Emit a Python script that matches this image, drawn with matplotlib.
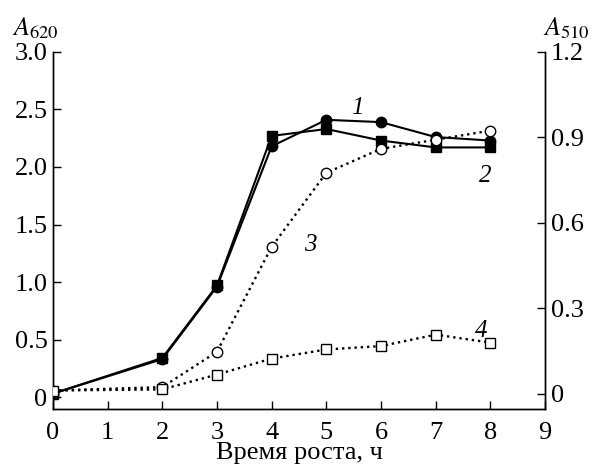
import numpy as np
import matplotlib
matplotlib.use('Agg')
import matplotlib.pyplot as plt

plt.rcParams['font.family'] = ['Liberation Serif', 'DejaVu Serif']
plt.rcParams['mathtext.fontset'] = 'stix'

# время роста, ч
hours = [0, 2, 3, 4, 5, 6, 7, 8]
# A620 (левая ось)
curve1 = [0.03, 0.33, 0.96, 2.18, 2.41, 2.39, 2.26, 2.23]
curve2 = [0.03, 0.34, 0.97, 2.27, 2.33, 2.23, 2.17, 2.17]
# A510 (правая ось)
curve3 = [0.012, 0.024, 0.148, 0.516, 0.776, 0.86, 0.892, 0.924]
curve4 = [0.012, 0.016, 0.068, 0.124, 0.156, 0.168, 0.208, 0.18]

left_ticks = [0, 0.5, 1.0, 1.5, 2.0, 2.5, 3.0]
left_labels = ['0', '0.5', '1.0', '1.5', '2.0', '2.5', '3.0']
right_ticks = [0, 0.3, 0.6, 0.9, 1.2]
right_labels = ['0', '0.3', '0.6', '0.9', '1.2']

fig = plt.figure(figsize=(5.95, 4.68), dpi=100)
ax = fig.add_axes([0.089, 0.126, 0.827, 0.763])
ax2 = ax.twinx()

ax.plot(hours, curve1, '-', color='black', lw=1.5, marker='o', ms=7.5,
        mfc='black', mec='black', zorder=3)
ax.plot(hours, curve2, '-', color='black', lw=1.5, marker='s', ms=7.5,
        mfc='black', mec='black', zorder=3)
ax2.plot(hours, curve3, ':', color='black', lw=1.7, marker='o', ms=7.5,
         mfc='white', mec='black', mew=1.0, zorder=3)
ax2.plot(hours, curve4, ':', color='black', lw=1.7, marker='s', ms=7.5,
         mfc='white', mec='black', mew=1.0, zorder=3)

ax.set_xlim(0, 9)
ax.set_ylim(-0.104, 3.0)
ax2.set_ylim(-0.053, 1.2)

ax.set_xticks(range(10))
ax.set_yticks(left_ticks)
ax.set_yticklabels(left_labels)
ax2.set_yticks(right_ticks)
ax2.set_yticklabels(right_labels)

for a in (ax, ax2):
    a.spines['top'].set_visible(False)
    for s in a.spines.values():
        s.set_linewidth(1.0)
    a.tick_params(direction='in', length=6, width=1.0, labelsize=19)
ax.tick_params(axis='x', pad=9)
ax.tick_params(axis='y', pad=4)
ax2.tick_params(axis='y', pad=4)

ax.set_xlabel('Время роста, ч', fontsize=19, labelpad=-1)

fig.text(0.02, 0.925, r'$A_{620}$', fontsize=19)
fig.text(0.913, 0.925, r'$A_{510}$', fontsize=19)

ax.text(5.45, 2.46, '1', fontsize=18, style='italic')
ax.text(7.8, 1.87, '2', fontsize=18, style='italic')
ax.text(4.6, 1.27, '3', fontsize=18, style='italic')
ax.text(7.72, 0.52, '4', fontsize=18, style='italic')

fig.savefig('out.png', dpi=100)
